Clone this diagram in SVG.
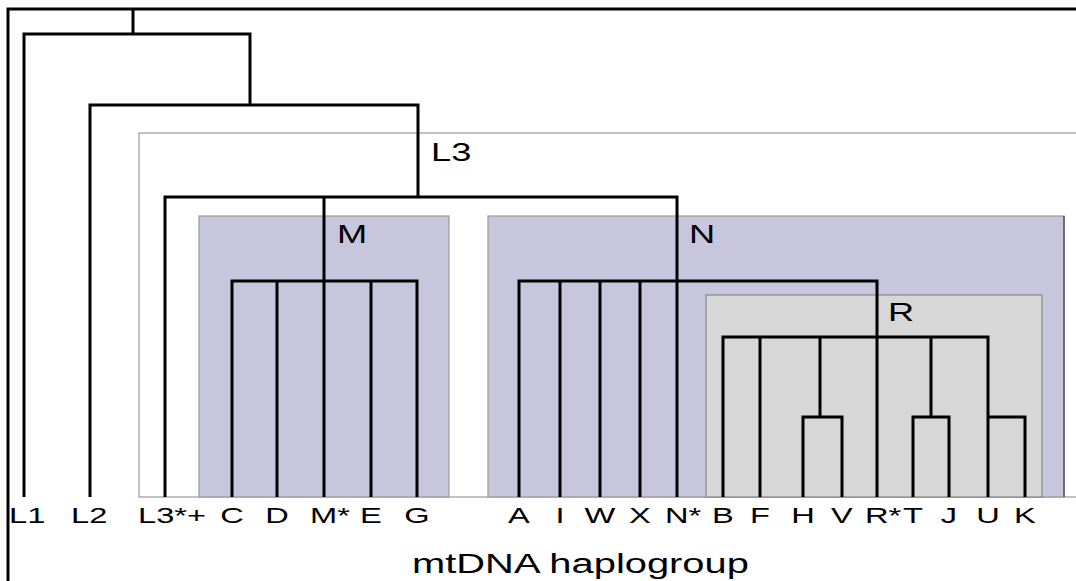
<svg xmlns="http://www.w3.org/2000/svg" width="1076" height="581" viewBox="0 0 1076 581">
<style>
.clade{stroke:#999;stroke-width:1.2}
.tree{fill:none;stroke:#000;stroke-width:3;stroke-linejoin:miter;stroke-linecap:butt}
.leaf{font-family:"Liberation Sans",Arial,sans-serif;font-size:22.5px;fill:#000}
.grp{font-family:"Liberation Sans",Arial,sans-serif;font-size:25px;fill:#000}
.axis{font-family:"Liberation Sans",Arial,sans-serif;font-size:27.5px;fill:#000}
</style>
<rect width="1076" height="581" fill="#fff"/>
<g id="clade-L3">
<rect class="clade" x="139" y="133" width="950" height="364" fill="#fff"/>
<text class="grp" transform="translate(431,161) scale(1.45,1)">L3</text>
</g>
<g id="clade-M">
<rect class="clade" x="199" y="216" width="250" height="281" fill="#c8c6dc"/>
<text class="grp" transform="translate(337,243) scale(1.45,1)">M</text>
</g>
<g id="clade-N">
<rect class="clade" x="488" y="216" width="576" height="281" fill="#c8c6dc"/>
<line x1="1064" y1="216" x2="1064" y2="497" stroke="#555" stroke-width="1.5"/>
<text class="grp" transform="translate(689,243) scale(1.45,1)">N</text>
</g>
<g id="clade-R">
<rect x="706" y="295" width="336" height="202" fill="#d7d7d7" stroke="#888" stroke-width="1.2"/>
<text class="grp" transform="translate(888,321) scale(1.45,1)">R</text>
</g>
<g id="connectors" class="tree">
<path d="M8,581 V9 H1076"/>
<path d="M133,9 V34"/>
<path d="M24,497 V34 H250 V105"/>
<path d="M90,497 V105 H418 V197"/>
<path d="M165,497 V197 H677 V497"/>
<path d="M324,197 V497"/>
<path d="M232,497 V281 H417 V497 M277,281 V497 M371,281 V497"/>
<path d="M519,497 V281 H877 V497 M560,281 V497 M600,281 V497 M640,281 V497"/>
<path d="M723,497 V337 H988 V497 M760,337 V497 M820,337 V417 M803,497 V417 H842 V497 M931,337 V417 M913,497 V417 H949 V497 M988,417 H1025 V497"/>
</g>
<g id="leaf-labels" class="leaf">
<text transform="translate(9,523) scale(1.45,1)">L1</text>
<text transform="translate(71,523) scale(1.45,1)">L2</text>
<text transform="translate(138,523) scale(1.45,1)">L3*+</text>
<g text-anchor="middle">
<text transform="translate(232,523) scale(1.45,1)">C</text>
<text transform="translate(277,523) scale(1.45,1)">D</text>
<text transform="translate(330,523) scale(1.45,1)">M*</text>
<text transform="translate(371,523) scale(1.45,1)">E</text>
<text transform="translate(417,523) scale(1.45,1)">G</text>
<text transform="translate(519,523) scale(1.45,1)">A</text>
<text transform="translate(560,523) scale(1.45,1)">I</text>
<text transform="translate(600,523) scale(1.45,1)">W</text>
<text transform="translate(640,523) scale(1.45,1)">X</text>
<text transform="translate(683,523) scale(1.45,1)">N*</text>
<text transform="translate(723,523) scale(1.45,1)">B</text>
<text transform="translate(760,523) scale(1.45,1)">F</text>
<text transform="translate(803,523) scale(1.45,1)">H</text>
<text transform="translate(842,523) scale(1.45,1)">V</text>
<text transform="translate(883,523) scale(1.45,1)">R*</text>
<text transform="translate(913,523) scale(1.45,1)">T</text>
<text transform="translate(949,523) scale(1.45,1)">J</text>
<text transform="translate(988,523) scale(1.45,1)">U</text>
<text transform="translate(1025,523) scale(1.45,1)">K</text>
</g>
</g>
<text id="axis-title" class="axis" transform="translate(412,573) scale(1.45,1)">mtDNA haplogroup</text>
</svg>
